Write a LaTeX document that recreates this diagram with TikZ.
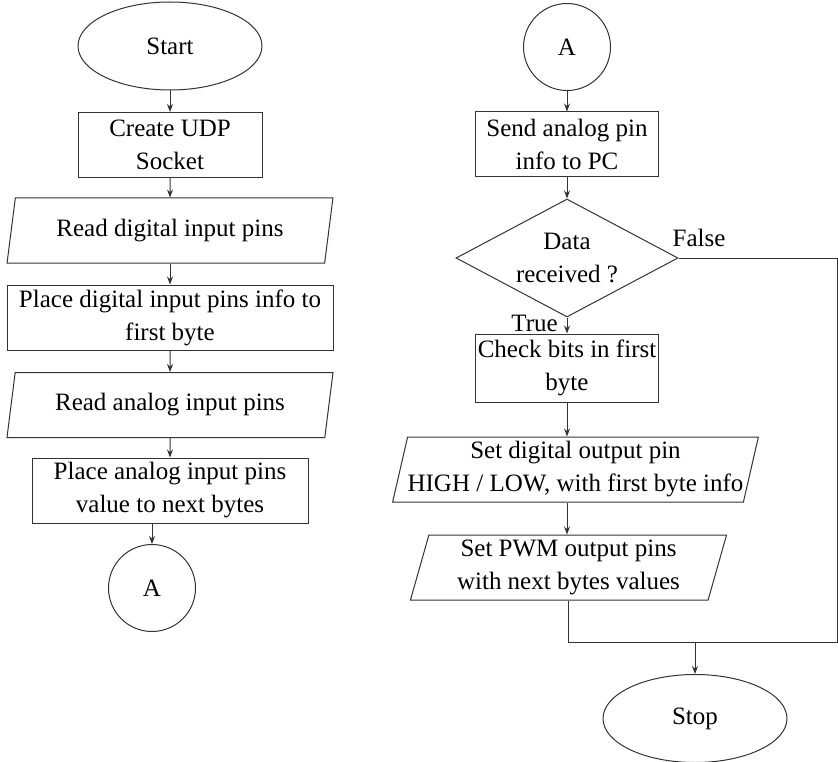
\documentclass[tikz,border=0pt]{standalone}
\usepackage{fontspec}
\setmainfont{Liberation Serif}
\usetikzlibrary{arrows.meta,shapes.geometric}
\tikzset{
  flowline/.style={draw=black!80, line width=1pt},
  arrow/.style={flowline, -{Stealth[length=8pt,width=6pt]}},
  terminal/.style={ellipse, draw=black!80, line width=1pt,
    minimum width=184pt, minimum height=88pt, inner sep=0pt},
  process/.style={rectangle, draw=black!80, line width=1pt,
    minimum height=65pt, inner sep=0pt, align=center},
  iobox/.style={trapezium, trapezium left angle=75, trapezium right angle=105,
    trapezium stretches=true, draw=black!80, line width=1pt,
    minimum height=65pt, inner sep=0pt, align=center},
  decision/.style={diamond, draw=black!80, line width=1pt, shape aspect=1.88,
    minimum width=222pt, minimum height=118pt, inner sep=0pt, align=center},
  connector/.style={circle, draw=black!80, line width=1pt,
    minimum size=87pt, inner sep=0pt},
  tag/.style={inner sep=0pt}
}
\begin{document}
\begin{tikzpicture}[x=1pt, y=-1pt, font=\fontsize{25}{33}\selectfont]
  \useasboundingbox (0,0) rectangle (838,762);

  % left column
  \node[terminal] (start) at (170,46) {Start};
  \node[process, minimum width=184pt] (udp) at (170,145) {Create UDP\\Socket};
  \node[iobox, minimum width=327pt] (rdig) at (170,230.5) {Read digital input pins};
  \node[process, minimum width=326pt] (pdig) at (170,317.5) {Place digital input pins info to\\first byte};
  \node[iobox, minimum width=327pt] (rana) at (170,405) {Read analog input pins};
  \node[process, minimum width=276pt] (pana) at (170,490.5) {Place analog input pins\\value to next bytes};
  \node[connector] (outA) at (152,588) {A};

  \draw[arrow] (start) -- (udp);
  \draw[arrow] (udp) -- (rdig);
  \draw[arrow] (rdig) -- (pdig);
  \draw[arrow] (pdig) -- (rana);
  \draw[arrow] (rana) -- (pana);
  \draw[arrow] (pana.south -| outA) -- (outA);

  % right column
  \node[connector] (inA) at (567,47) {A};
  \node[process, minimum width=183pt] (send) at (567,144.5) {Send analog pin\\info to PC};
  \node[decision] (recv) at (567,258) {Data\\received ?};
  \node[process, minimum width=183pt, minimum height=68pt] (check) at (567,368) {Check bits in first\\byte};
  \node[iobox, minimum width=359pt] (sdig) at (575.5,469.5) {Set digital output pin\\HIGH / LOW, with first byte info};
  \node[iobox, minimum width=317pt] (spwm) at (568.5,567.5) {Set PWM output pins\\with next bytes values};
  \node[terminal] (stop) at (695,718.5) {Stop};

  \draw[arrow] (inA) -- (send);
  \draw[arrow] (send) -- (recv);
  \draw[arrow] (recv) -- (check);
  \draw[arrow] (check) -- (check |- sdig.north);
  \draw[arrow] (sdig.south -| check) -- (check |- spwm.north);

  % false branch and merge
  \coordinate (rim) at (837.5,642);
  \draw[flowline] (recv.east) -| (rim) -- (spwm.south |- rim) -- (spwm.south);
  \draw[arrow] (stop.north |- rim) -- (stop);

  \node[tag, anchor=base west] at ([xshift=-6pt,yshift=11pt]recv.east) {False};
  \node[tag, anchor=base east] at ([xshift=-9pt,yshift=-14pt]recv.south) {True};
\end{tikzpicture}
\end{document}
